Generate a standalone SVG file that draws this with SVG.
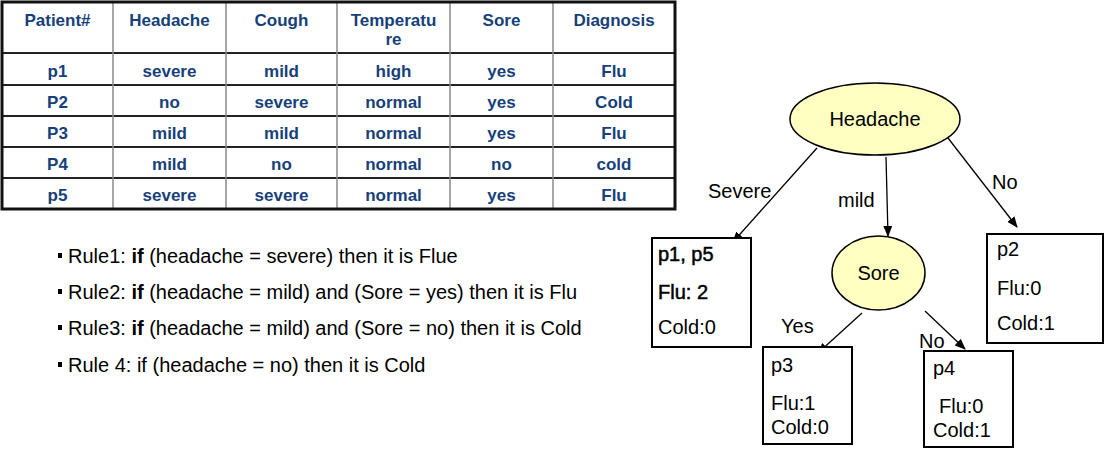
<svg xmlns="http://www.w3.org/2000/svg" width="1112" height="456" viewBox="0 0 1112 456">
<defs>
<style>
.th{font-family:"Liberation Sans",Arial,sans-serif;font-weight:bold;font-size:17px;fill:#173f7a;text-anchor:middle}
.td{font-family:"Liberation Sans",Arial,sans-serif;font-weight:bold;font-size:17px;fill:#173f7a;text-anchor:middle}
.hl{stroke:#222;stroke-width:2}
.vl{stroke:#8a8a8a;stroke-width:1.5}
.t{font-family:"Liberation Sans",Arial,sans-serif;font-size:20px;fill:#000}
.sb{stroke:#000;stroke-width:0.5}
.rule{font-family:"Liberation Sans",Arial,sans-serif;font-size:20px;fill:#000}
.box{fill:#fff;stroke:#000;stroke-width:2}
.ell{fill:#ffffc2;stroke:#000;stroke-width:1.5}
.con{stroke:#000;stroke-width:1.3;fill:none;marker-end:url(#ah)}
</style>
<marker id="ah" markerWidth="11" markerHeight="9" refX="10" refY="4.5" orient="auto" markerUnits="userSpaceOnUse">
<path d="M0,0 L11,4.5 L0,9 z" fill="#000"/>
</marker>
</defs>
<rect width="1112" height="456" fill="#fff"/>

<g id="table">
<rect x="2" y="2" width="673" height="207" fill="#fff" stroke="none"/>
<line class="hl" x1="2" y1="53" x2="675" y2="53"/>
<line class="hl" x1="2" y1="85" x2="675" y2="85"/>
<line class="hl" x1="2" y1="116" x2="675" y2="116"/>
<line class="hl" x1="2" y1="147" x2="675" y2="147"/>
<line class="hl" x1="2" y1="178" x2="675" y2="178"/>
<line class="vl" x1="113" y1="2" x2="113" y2="209"/>
<line class="vl" x1="226" y1="2" x2="226" y2="209"/>
<line class="vl" x1="337" y1="2" x2="337" y2="209"/>
<line class="vl" x1="450" y1="2" x2="450" y2="209"/>
<line class="vl" x1="553" y1="2" x2="553" y2="209"/>
<rect x="2" y="2" width="673" height="207" fill="none" stroke="#111" stroke-width="3"/>
<text class="th" x="57.5" y="26">Patient#</text>
<text class="th" x="169.5" y="26">Headache</text>
<text class="th" x="281.5" y="26">Cough</text>
<text class="th" x="393.5" y="26">Temperatu</text>
<text class="th" x="393.5" y="45">re</text>
<text class="th" x="501.5" y="26">Sore</text>
<text class="th" x="614" y="26">Diagnosis</text>
<text class="td" x="57.5" y="77">p1</text>
<text class="td" x="169.5" y="77">severe</text>
<text class="td" x="281.5" y="77">mild</text>
<text class="td" x="393.5" y="77">high</text>
<text class="td" x="501.5" y="77">yes</text>
<text class="td" x="614" y="77">Flu</text>
<text class="td" x="57.5" y="108">P2</text>
<text class="td" x="169.5" y="108">no</text>
<text class="td" x="281.5" y="108">severe</text>
<text class="td" x="393.5" y="108">normal</text>
<text class="td" x="501.5" y="108">yes</text>
<text class="td" x="614" y="108">Cold</text>
<text class="td" x="57.5" y="139">P3</text>
<text class="td" x="169.5" y="139">mild</text>
<text class="td" x="281.5" y="139">mild</text>
<text class="td" x="393.5" y="139">normal</text>
<text class="td" x="501.5" y="139">yes</text>
<text class="td" x="614" y="139">Flu</text>
<text class="td" x="57.5" y="170">P4</text>
<text class="td" x="169.5" y="170">mild</text>
<text class="td" x="281.5" y="170">no</text>
<text class="td" x="393.5" y="170">normal</text>
<text class="td" x="501.5" y="170">no</text>
<text class="td" x="614" y="170">cold</text>
<text class="td" x="57.5" y="201">p5</text>
<text class="td" x="169.5" y="201">severe</text>
<text class="td" x="281.5" y="201">severe</text>
<text class="td" x="393.5" y="201">normal</text>
<text class="td" x="501.5" y="201">yes</text>
<text class="td" x="614" y="201">Flu</text>
</g>

<g id="rules">
<rect x="58" y="253" width="4" height="5" fill="#000"/>
<text class="rule" x="68" y="263">Rule1: <tspan font-weight="bold">if</tspan> (headache = severe) then it is Flue</text>
<rect x="58" y="289" width="4" height="5" fill="#000"/>
<text class="rule" x="68" y="299">Rule2: <tspan font-weight="bold">if</tspan> (headache = mild) and (Sore = yes) then it is Flu</text>
<rect x="58" y="325" width="4" height="5" fill="#000"/>
<text class="rule" x="68" y="335">Rule3: <tspan font-weight="bold">if</tspan> (headache = mild) and (Sore = no) then it is Cold</text>
<rect x="58" y="362" width="4" height="5" fill="#000"/>
<text class="rule" x="68" y="372">Rule 4: if (headache = no) then it is Cold</text>
</g>

<g id="connectors">
<line class="con" x1="817" y1="148" x2="733" y2="242"/>
<line class="con" x1="886" y1="157" x2="888" y2="236"/>
<line class="con" x1="948" y1="138" x2="1017" y2="227"/>
<line class="con" x1="862" y1="313" x2="818" y2="353"/>
<line class="con" x1="925" y1="311" x2="965" y2="349"/>
<text class="t" x="708" y="198">Severe</text>
<text class="t" x="838" y="207">mild</text>
<text class="t" x="992" y="189">No</text>
<text class="t" x="781" y="333">Yes</text>
<text class="t" x="919" y="348">No</text>
</g>

<g id="headache">
<ellipse class="ell" cx="875" cy="119" rx="85" ry="36"/>
<text class="t" x="875" y="126" text-anchor="middle">Headache</text>
</g>

<g id="sore">
<ellipse class="ell" cx="878.5" cy="273" rx="46.5" ry="37"/>
<text class="t" x="878.5" y="280" text-anchor="middle">Sore</text>
</g>

<g id="leaf-p1p5">
<rect class="box" x="652" y="238" width="99" height="109" stroke-width="2.5"/>
<text class="t sb" x="658" y="261">p1, p5</text>
<text class="t sb" x="658" y="299">Flu: 2</text>
<text class="t" x="658" y="334">Cold:0</text>
</g>

<g id="leaf-p2">
<rect class="box" x="987" y="234" width="116" height="109" stroke-width="1.5"/>
<text class="t" x="997" y="256">p2</text>
<text class="t" x="997" y="295">Flu:0</text>
<text class="t" x="997" y="330">Cold:1</text>
</g>

<g id="leaf-p3">
<rect class="box" x="763" y="347" width="89" height="97"/>
<text class="t" x="771" y="372">p3</text>
<text class="t" x="771" y="410">Flu:1</text>
<text class="t" x="771" y="434">Cold:0</text>
</g>

<g id="leaf-p4">
<rect class="box" x="924" y="351" width="89" height="96"/>
<text class="t" x="933" y="375">p4</text>
<text class="t" x="939" y="413">Flu:0</text>
<text class="t" x="933" y="437">Cold:1</text>
</g>
</svg>
